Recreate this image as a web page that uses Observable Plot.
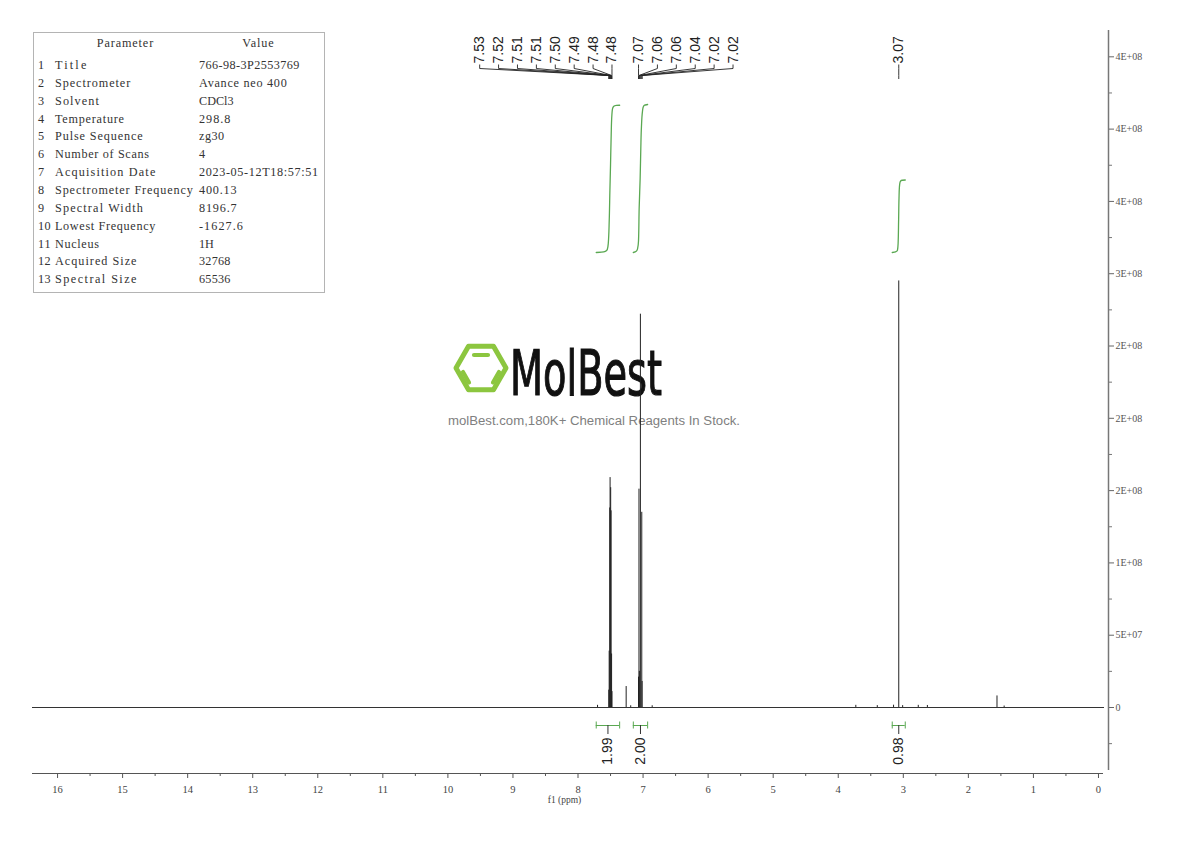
<!DOCTYPE html>
<html><head><meta charset="utf-8">
<script src="https://cdn.jsdelivr.net/npm/d3@7"></script>
<script src="https://cdn.jsdelivr.net/npm/@observablehq/plot@0.6"></script>
<style>
body{margin:0;background:#fff;}
#wrap{position:relative;width:1190px;height:841px;overflow:hidden;background:#fff;}
#logo,#chart,#table{position:absolute;left:0;top:0;}
#logo{z-index:0}
#chart{z-index:1}
#table{z-index:2}
</style></head>
<body>
<div id="wrap">
<svg id="logo" width="1190" height="841"></svg>
<div id="chart"></div>
<svg id="table" width="1190" height="841" style="pointer-events:none"></svg>
</div>
<script>
// ---------- data ----------
const xTicks = [16,15,14,13,12,11,10,9,8,7,6,5,4,3,2,1,0];
const xMinorTicks = [16.5,15.5,14.5,13.5,12.5,11.5,10.5,9.5,8.5,7.5,6.5,5.5,4.5,3.5,2.5,1.5,0.5];
const yTickValues = [0,5e7,1e8,1.5e8,2e8,2.5e8,3e8,3.5e8,4e8,4.5e8];
const yTickLabels = ["0","5E+07","1E+08","2E+08","2E+08","2E+08","3E+08","4E+08","4E+08","4E+08"];
const yMinorTicks = [-2.5e7,2.5e7,7.5e7,1.25e8,1.75e8,2.25e8,2.75e8,3.25e8,3.75e8,4.25e8];

// peak positions (ppm) and intensities
const peakPpm    = [7.527,7.521,7.512,7.507,7.498,7.492,7.484,7.478,
                    7.070,7.063,7.057,7.041,7.020,7.015,
                    3.070, 7.260, 1.560,
                    7.70,7.19,6.86,3.73,3.40,3.15,3.01,2.77,2.63,1.45];
const peakHeight = [1.2e7,3.9e7,1.38e8,1.59e8,1.52e8,1.36e8,3.7e7,1.1e7,
                    2.1e7,1.51e8,2.5e7,2.72e8,1.35e8,1.8e7,
                    2.95e8, 1.45e7, 8.0e6,
                    1.5e6,1.2e6,1.2e6,1.5e6,1.3e6,1.6e6,1.3e6,1.5e6,1.4e6,1.0e6];

// peak labels
const labelsA = ["7.53","7.52","7.51","7.51","7.50","7.49","7.48","7.48"];
const labelsAPpm = [7.527,7.521,7.512,7.507,7.498,7.492,7.484,7.478];
const labelsB = ["7.07","7.06","7.06","7.04","7.02","7.02"];
const labelsBPpm = [7.070,7.063,7.057,7.041,7.020,7.015];
const labelsC = ["3.07"];
const labelsCPpm = [3.070];

// integrals: region bounds, value, and integral curve (ppm, cumulative fraction)
const integralValues = [1.99, 2.00, 0.98];
const integralLabels = ["1.99", "2.00", "0.98"];
const integralFrom = [7.72, 7.15, 3.17];
const integralTo   = [7.36, 6.93, 2.97];
const intCurvePpmA  = [7.72,7.64,7.58,7.55,7.535,7.52,7.51,7.50,7.49,7.48,7.47,7.45,7.41,7.36];
const intCurveFracA = [0,0.002,0.008,0.02,0.06,0.22,0.42,0.60,0.80,0.93,0.975,0.993,0.999,1];
const intCurvePpmB  = [7.15,7.11,7.085,7.07,7.06,7.045,7.035,7.025,7.01,7.00,6.98,6.93];
const intCurveFracB = [0,0.006,0.025,0.08,0.30,0.50,0.70,0.85,0.95,0.98,0.995,1];
const intCurvePpmC  = [3.17,3.12,3.09,3.08,3.072,3.066,3.06,3.05,3.03,2.97];
const intCurveFracC = [0,0.008,0.03,0.12,0.45,0.75,0.90,0.97,0.995,1];

// parameter table
const paramNames = ["Title","Spectrometer","Solvent","Temperature","Pulse Sequence","Number of Scans",
  "Acquisition Date","Spectrometer Frequency","Spectral Width","Lowest Frequency","Nucleus",
  "Acquired Size","Spectral Size"];
const paramValues = ["766-98-3P2553769","Avance neo 400","CDCl3","298.8","zg30","4",
  "2023-05-12T18:57:51","400.13","8196.7","-1627.6","1H","32768","65536"];

// ---------- layout ----------
const W = 1190, H = 841, ML = 32, MR = 82, MT = 30, MB = 68;
const xDomain = [16.385, -0.154];
const yDomain = [-4.564e7, 4.682e8];
const xs = d3.scaleLinear().domain(xDomain).range([ML, W - MR]);
const ys = d3.scaleLinear().domain(yDomain).range([H - MB, MT]);
const xAt = px => xs.invert(px);
const yAt = px => ys.invert(px);

const peaks = peakPpm.map((p, i) => ({ppm: p, h: peakHeight[i]}));
const yLabelMap = new Map(yTickValues.map((v, i) => [v, yTickLabels[i]]));

// peak labels + leaders
const labelRows = [];
const leaders = [];
function addGroup(labels, ppms, mode) {
  const n = labels.length, sp = 18.9;
  ppms.forEach((p, k) => {
    let lpx;
    if (mode === "left") lpx = xs(ppms[n - 1]) - (n - 1 - k) * sp;
    else if (mode === "right") lpx = xs(ppms[0]) + k * sp;
    else lpx = xs(p);
    const lx = xAt(lpx);
    labelRows.push({text: labels[k], x: lx, y: yAt(63)});
    leaders.push({x1: lx, y1: yAt(64), x2: lx, y2: yAt(68)});
    leaders.push({x1: lx, y1: yAt(68), x2: p, y2: yAt(75)});
    leaders.push({x1: p, y1: yAt(75), x2: p, y2: yAt(78.5)});
  });
}
addGroup(labelsA, labelsAPpm, "left");
addGroup(labelsB, labelsBPpm, "right");
addGroup(labelsC, labelsCPpm, "single");

// integral curves
const pxPerUnit = 74, intBase = 252;
const curves = [[intCurvePpmA, intCurveFracA], [intCurvePpmB, intCurveFracB], [intCurvePpmC, intCurveFracC]];
const intRows = [];
curves.forEach(([pp, ff], r) => {
  pp.forEach((p, i) => intRows.push({r, x: p, y: yAt(intBase - ff[i] * pxPerUnit * integralValues[r])}));
});
const brackets = integralValues.map((v, i) => ({
  x1: integralFrom[i], x2: integralTo[i], mid: (integralFrom[i] + integralTo[i]) / 2, label: integralLabels[i]
}));

const green = "#5aa852";
const serif = "'Liberation Serif', 'DejaVu Serif', serif";
const sans = "'Liberation Sans', Arial, sans-serif";

const plot = Plot.plot({
  width: W, height: H,
  marginLeft: ML, marginRight: MR, marginTop: MT, marginBottom: MB,
  style: {background: "transparent", overflow: "visible"},
  x: {domain: xDomain, axis: null},
  y: {domain: yDomain, axis: null},
  marks: [
    // axes
    Plot.ruleY([yDomain[0]], {x1: xDomain[0], x2: xAt(1103), stroke: "#555", strokeWidth: 1}),
    Plot.axisX({ticks: xTicks, tickSize: 5, tickPadding: 7, fontSize: 10.5, fontFamily: serif,
      stroke: "#555", fill: "#444", tickFormat: d => String(d), label: null}),
    Plot.axisX({ticks: xMinorTicks.filter(d => d < xDomain[0]), tickSize: 3, stroke: "#555",
      tickFormat: () => "", label: null}),
    Plot.text(["f1 (ppm)"], {x: xAt(564), frameAnchor: "bottom", dy: 29, text: d => d,
      fontSize: 9.5, fontFamily: serif, fill: "#444"}),
    Plot.ruleX([xDomain[1]], {y1: yAt(770), y2: yDomain[1], stroke: "#777", strokeWidth: 1.5}),
    Plot.axisY({anchor: "right", ticks: yTickValues, tickSize: 5, tickPadding: 2, fontSize: 10,
      fontFamily: serif, stroke: "#666", fill: "#555", tickFormat: d => yLabelMap.get(d), label: null}),
    Plot.axisY({anchor: "right", ticks: yMinorTicks, tickSize: 3, stroke: "#777",
      tickFormat: () => "", label: null}),
    // spectrum
    Plot.ruleY([0], {x1: xDomain[0], x2: xAt(1104), stroke: "#333", strokeWidth: 1}),
    Plot.ruleX(peaks, {x: "ppm", y1: 0, y2: "h", stroke: "#222", strokeWidth: 1}),
    // integral curves
    Plot.line(intRows, {x: "x", y: "y", z: "r", stroke: green, strokeWidth: 1.3, curve: "monotone-y"}),
    // integral brackets
    Plot.ruleY(brackets, {x1: "x1", x2: "x2", y: yAt(725), stroke: green, strokeWidth: 1}),
    Plot.ruleX(brackets, {x: "x1", y1: yAt(721.5), y2: yAt(728.5), stroke: green, strokeWidth: 1}),
    Plot.ruleX(brackets, {x: "x2", y1: yAt(721.5), y2: yAt(728.5), stroke: green, strokeWidth: 1}),
    Plot.ruleX(brackets, {x: "mid", y1: yAt(725), y2: yAt(734), stroke: "#333", strokeWidth: 1}),
    Plot.text(brackets, {x: "mid", y: yAt(737), text: "label", rotate: -90, textAnchor: "end",
      lineAnchor: "middle", fontSize: 14, fontFamily: sans, fill: "#222"}),
    // peak labels
    Plot.link(leaders, {x1: "x1", y1: "y1", x2: "x2", y2: "y2", stroke: "#222", strokeWidth: 0.9}),
    Plot.text(labelRows, {x: "x", y: "y", text: "text", rotate: -90, textAnchor: "start",
      lineAnchor: "middle", fontSize: 14, fontFamily: sans, fill: "#222"})
  ]
});
document.getElementById("chart").appendChild(plot);

// ---------- watermark logo (behind the chart) ----------
const logo = d3.select("#logo");
const lg = logo.append("g").attr("transform", "translate(481,368)");
const R = 25;
const hex = d3.range(6).map(i => {
  const a = Math.PI / 3 * i;
  return [R * Math.cos(a), R * Math.sin(a)];
});
lg.append("polygon").attr("points", hex.map(p => p.join(",")).join(" "))
  .attr("fill", "none").attr("stroke", "#8cc63f").attr("stroke-width", 5).attr("stroke-linejoin", "round");
[[[-7, -13], [7, -13]], [[-18, 4], [-12, 14.5]], [[12, 14.5], [18, 4]]].forEach(([a, b]) => {
  lg.append("line").attr("x1", a[0]).attr("y1", a[1]).attr("x2", b[0]).attr("y2", b[1])
    .attr("stroke", "#8cc63f").attr("stroke-width", 4.2).attr("stroke-linecap", "round");
});
logo.append("text").attr("x", 510).attr("y", 395).text("MolBest")
  .attr("font-family", "'DejaVu Sans', sans-serif").attr("font-weight", "normal").attr("font-size", 62)
  .attr("textLength", 152).attr("lengthAdjust", "spacingAndGlyphs").attr("fill", "#111")
  .attr("stroke", "#111").attr("stroke-width", 1.2);
logo.append("text").attr("x", 448).attr("y", 425).text("molBest.com,180K+ Chemical Reagents In Stock.")
  .attr("font-family", sans).attr("font-size", 12.5)
  .attr("textLength", 292).attr("lengthAdjust", "spacingAndGlyphs").attr("fill", "#808080");

// ---------- parameter table ----------
const tb = d3.select("#table");
tb.append("rect").attr("x", 33.5).attr("y", 32.5).attr("width", 291).attr("height", 260)
  .attr("fill", "#fff").attr("stroke", "#b4b4b4").attr("stroke-width", 1);
const cw = 6.27, fs = 12.2;
function cell(x, y, s, anchor) {
  const t = tb.append("text").attr("x", x).attr("y", y).text(s)
    .attr("font-family", serif).attr("font-size", fs).attr("fill", "#333")
    .attr("text-anchor", anchor || "start");
  const target = s.length * cw;
  const natural = t.node().getComputedTextLength();
  if (s.length > 1 && natural < target) t.attr("textLength", target).attr("lengthAdjust", "spacing");
}
cell(125, 47, "Parameter", "middle");
cell(258, 47, "Value", "middle");
paramNames.forEach((n, i) => {
  const y = 69 + i * 17.85;
  cell(38, y, String(i + 1));
  cell(55, y, n);
  cell(199, y, paramValues[i]);
});
</script>
</body></html>
